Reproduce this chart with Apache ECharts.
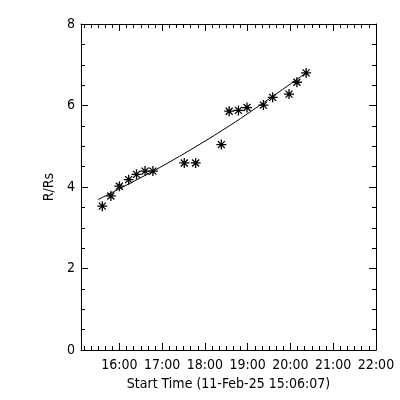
<!DOCTYPE html>
<html>
<head>
<meta charset="utf-8">
<script src="https://cdn.jsdelivr.net/npm/echarts@6/dist/echarts.min.js"></script>
<style>html,body{margin:0;padding:0;background:#fff}#c{width:400px;height:400px}</style>
</head>
<body>
<div id="c"></div>
<script>
// ---- data ----
var startTime = "15:06:07";
var axisEnd = "22:00";
var obsTimes = ["15:36","15:48","16:00","16:13","16:24","16:36","16:47","17:31","17:47","18:23","18:34","18:47","18:59","19:22","19:35","19:58","20:09","20:22"];
var obsR = [3.53,3.78,4.02,4.18,4.31,4.39,4.39,4.59,4.59,5.04,5.86,5.88,5.95,6.01,6.20,6.28,6.57,6.80];
var fitTimes = ["15:30","17:01","18:36","20:21"];
var fitR = [3.69,4.52,5.52,6.79];
var xTickLabels = ["16:00","17:00","18:00","19:00","20:00","21:00","22:00"];
var yTicks = [0,2,4,6,8];
var xTitle = "Start Time (11-Feb-25 15:06:07)";
var yTitle = "R/Rs";

function hrs(s){var p=s.split(':').map(Number);return p[0]+p[1]/60+(p[2]||0)/3600;}
var xmin = hrs(startTime), xmax = hrs(axisEnd);
var majors = xTickLabels.map(hrs);
var minors = [];
for (var m = 15*60+10; m < 22*60; m += 10) { if (m % 60 !== 0 && m/60 > xmin) minors.push(m/60); }
function fmt(v){var hh=Math.round(v*60);var H=Math.floor(hh/60),M=hh%60;return (H<10?'0':'')+H+':'+(M<10?'0':'')+M;}

var font = "'Liberation Sans Narrow','DejaVu Sans Condensed',sans-serif";
var black = '#000';
function xAx(pos, ticks, len, showLine, showLabel){
  return {
    type:'value', min:xmin, max:xmax, position:pos, gridIndex:0,
    axisLine:{show:showLine,onZero:false,lineStyle:{color:black,width:1}},
    axisTick:{show:true,inside:true,length:len,customValues:ticks,lineStyle:{color:black,width:1}},
    axisLabel:{show:showLabel,customValues:ticks,formatter:fmt,color:black,fontFamily:font,fontSize:14,margin:8},
    splitLine:{show:false}, minorTick:{show:false}
  };
}
var xAxes = [xAx('bottom',majors,7,true,true), xAx('bottom',minors,4,false,false), xAx('top',majors,7,true,false), xAx('top',minors,4,false,false)];
xAxes[0].name = xTitle; xAxes[0].nameLocation='middle'; xAxes[0].nameGap=25;
xAxes[0].nameTextStyle={color:black,fontFamily:font,fontSize:14};

function yAx(pos, showLabel){
  return {
    type:'value', min:yTicks[0], max:yTicks[yTicks.length-1], interval:yTicks[1]-yTicks[0], position:pos,
    axisLine:{show:true,onZero:false,lineStyle:{color:black,width:1}},
    axisTick:{show:true,inside:true,length:7,lineStyle:{color:black,width:1}},
    minorTick:{show:true,splitNumber:4,length:4,lineStyle:{color:black,width:1}},
    axisLabel:{show:showLabel,color:black,fontFamily:font,fontSize:14,margin:6},
    splitLine:{show:false}, minorSplitLine:{show:false}
  };
}
var yAxes = [yAx('left',true), yAx('right',false)];
yAxes[0].name = yTitle; yAxes[0].nameLocation='middle'; yAxes[0].nameGap=25;
yAxes[0].nameTextStyle={color:black,fontFamily:font,fontSize:14};

var star = 'path://M0,5L10,5M5,0L5,10M1.5,1.5L8.5,8.5M8.5,1.5L1.5,8.5';

var chart = echarts.init(document.getElementById('c'), null, {renderer:'canvas'});
chart.setOption({
  backgroundColor:'#fff',
  animation:false,
  grid:{left:81,right:24,top:24,bottom:50,containLabel:false},
  xAxis:xAxes,
  yAxis:yAxes,
  series:[
    {type:'scatter', xAxisIndex:0, yAxisIndex:0, symbol:star, symbolSize:10,
     itemStyle:{color:'rgba(0,0,0,0)',borderColor:black,borderWidth:1.3,opacity:1},
     data:obsTimes.map(function(t,i){return [hrs(t),obsR[i]];})},
    {type:'line', xAxisIndex:0, yAxisIndex:0, showSymbol:false, smooth:0.3,
     lineStyle:{color:black,width:1}, data:fitTimes.map(function(t,i){return [hrs(t),fitR[i]];})}
  ]
});
</script>
</body>
</html>
